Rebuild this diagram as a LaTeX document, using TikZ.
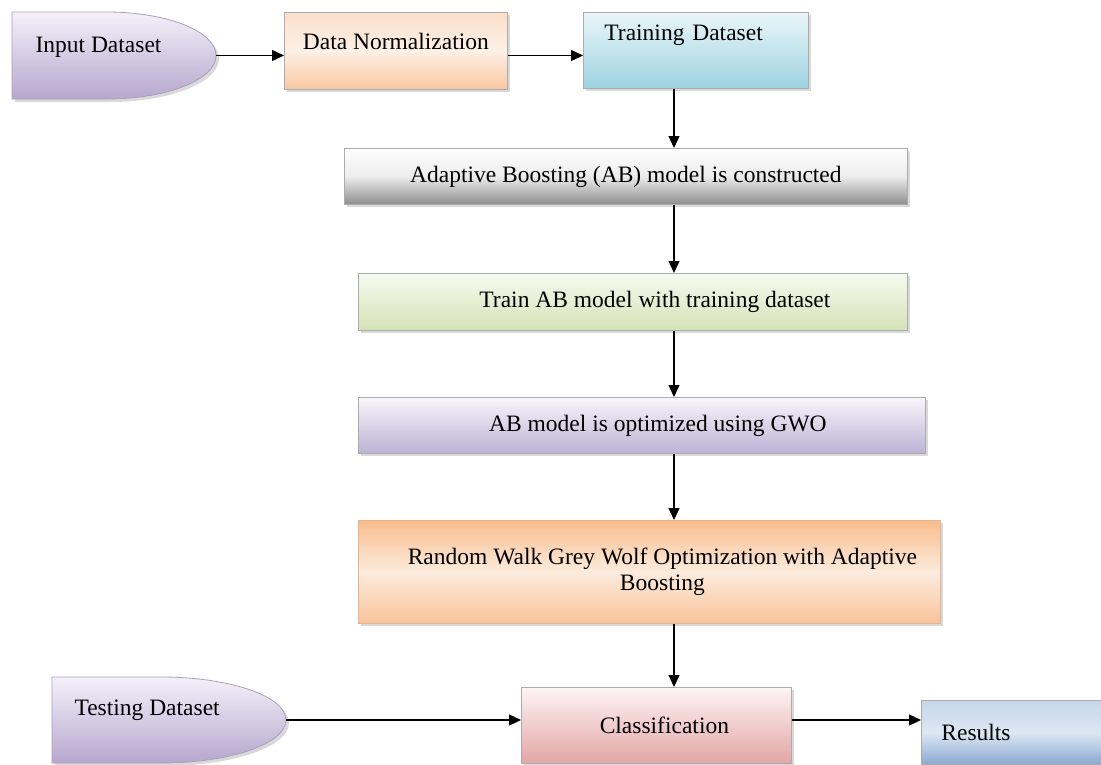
\documentclass[tikz,border=0pt]{standalone}
\usepackage{fontspec}
\setmainfont{Liberation Serif}
\usetikzlibrary{arrows.meta,shadows}
\definecolor{lavtop}{HTML}{F4F1F9}
\definecolor{lavbot}{HTML}{B6A7CE}
\definecolor{peachtop}{HTML}{FBE0CB}
\definecolor{peachmid}{HTML}{FDF0E6}
\definecolor{peachbot}{HTML}{F8C7A2}
\definecolor{skytop}{HTML}{EAF6F9}
\definecolor{skybot}{HTML}{9ED2E1}
\definecolor{greybot}{HTML}{8E8E8E}
\definecolor{leaftop}{HTML}{F7FAF0}
\definecolor{leafbot}{HTML}{D4E2B6}
\definecolor{liltop}{HTML}{F8F6FB}
\definecolor{lilbot}{HTML}{BCB2D5}
\definecolor{orgtop}{HTML}{F9BD8C}
\definecolor{orgmid}{HTML}{FCEBDD}
\definecolor{orgbot}{HTML}{F8C39A}
\definecolor{rosetop}{HTML}{FDF4F4}
\definecolor{rosebot}{HTML}{E4A5A5}
\definecolor{bluetop}{HTML}{C6D6EB}
\definecolor{bluemid}{HTML}{DDE7F3}
\definecolor{bluebot}{HTML}{8AA9D3}
\newcommand{\pushr}[1]{\hspace*{#1}}

\begin{document}
\begin{tikzpicture}[
  x=1pt, y=-1pt,
  font=\fontsize{23.5}{26}\selectfont,
  box/.style={draw=gray!65, line width=0.8pt, anchor=north west, inner sep=0pt,
              align=center, drop shadow={shadow xshift=3pt, shadow yshift=-3pt, opacity=0.3}},
  datasrc/.style={draw=lavbot!80!gray, line width=0.8pt, top color=lavtop, bottom color=lavbot,
              drop shadow={shadow xshift=3pt, shadow yshift=-3pt, opacity=0.3}},
  arrow/.style={-{Triangle[length=12pt,width=11pt]}, line width=1.4pt}
]
\useasboundingbox (0,0) rectangle (1101,764);

% data sources
\path[datasrc] (12,12) -- (107,12) arc[start angle=90, end angle=-90, x radius=109pt, y radius=43.5pt]
  -- (12,99) -- cycle;
\coordinate (input-e) at (216,55.5);
\node[anchor=west] (input) at (32,47) {Input Dataset};

\path[datasrc] (52,677) -- (161,677) arc[start angle=90, end angle=-90, x radius=125pt, y radius=43pt]
  -- (52,763) -- cycle;
\coordinate (test-e) at (286,720);
\node[anchor=west] (testing) at (71,710) {Testing Dataset};

% process boxes
\node[box, minimum width=223pt, minimum height=77pt, text depth=19pt,
      top color=peachtop, bottom color=peachbot, middle color=peachmid] (dnorm) at (284,12) {Data Normalization};
\node[box, minimum width=225pt, minimum height=76pt, text width=183pt, inner xsep=21pt, align=left,
      text depth=35pt, top color=skytop, bottom color=skybot] (train) at (583,12) {Training Dataset};
\node[box, minimum width=563pt, minimum height=56pt,
      top color=white, bottom color=greybot, middle color=gray!15] (abuild) at (344,148) {Adaptive Boosting (AB) model is constructed};
\node[box, minimum width=549pt, minimum height=57pt,
      top color=leaftop, bottom color=leafbot] (trainab) at (358,273) {\pushr{44pt}Train AB model with training dataset};
\node[box, minimum width=567pt, minimum height=56pt,
      top color=liltop, bottom color=lilbot] (abopt) at (358,397) {\pushr{32pt}AB model is optimized using GWO};
\node[box, minimum width=582pt, minimum height=103pt, draw=orgbot!80!gray,
      top color=orgtop, bottom color=orgbot, middle color=orgmid] (rwgwo) at (358,520)
      {\pushr{26pt}Random Walk Grey Wolf Optimization with Adaptive\\\pushr{26pt}Boosting};
\node[box, minimum width=270pt, minimum height=76pt,
      top color=rosetop, bottom color=rosebot] (classify) at (521,687) {\pushr{16pt}Classification};
\node[box, minimum width=180pt, minimum height=64pt, text width=140pt, inner xsep=20pt, align=left,
      top color=bluetop, bottom color=bluebot, middle color=bluemid] (results) at (921,700) {Results};

% connectors
\coordinate (spine) at (674,0);
\draw[arrow] (input-e) -- (input-e -| dnorm.west);
\draw[arrow] (input-e -| dnorm.east) -- (input-e -| train.west);
\foreach \a/\b in {train/abuild, abuild/trainab, trainab/abopt, abopt/rwgwo, rwgwo/classify}
  \draw[arrow] (\a.south -| spine) -- (\b.north -| spine);
\draw[arrow] (test-e) -- (test-e -| classify.west);
\draw[arrow] (classify.east |- test-e) -- (results.west |- test-e);
\end{tikzpicture}
\end{document}
